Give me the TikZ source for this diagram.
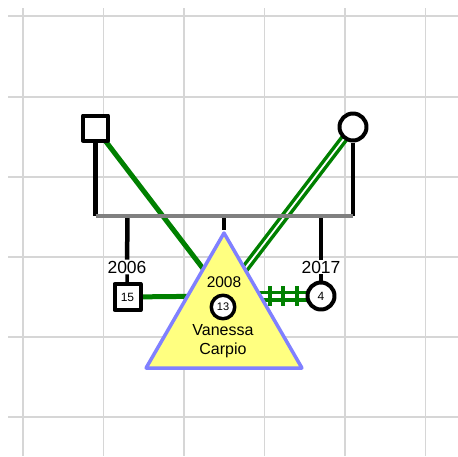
\documentclass[tikz,border=0pt]{standalone}
\usepackage{fontspec}
\setmainfont{Liberation Sans}
\usetikzlibrary{positioning,shapes}
\pgfdeclarelayer{background}
\pgfsetlayers{background,main}

\begin{document}
\begin{tikzpicture}[x=1pt,y=-1pt,line join=round]
            \definecolor{rel}{RGB}{0,128,0}
            \definecolor{triyel}{RGB}{255,255,128}
            \definecolor{triblue}{RGB}{128,128,255}
            \definecolor{gridgray}{RGB}{214,214,214}
            \tikzstyle{gridline}=[draw=gridgray, line width=1.8pt]
            \tikzstyle{male}=[draw, rectangle, fill=white, line width=4pt,
            inner sep=0pt, minimum size=25pt]
            \tikzstyle{female}=[draw, circle, fill=white, line width=4pt,
            inner sep=0pt, minimum size=27pt]
            \tikzstyle{kin}=[line width=4.5pt]
            \tikzstyle{marriage}=[draw=gray, line width=4.5pt]
            \tikzstyle{bond}=[draw=rel, line width=5pt]
            \tikzstyle{closebond}=[draw=rel, line width=3.5pt, double=white,
            double distance=1.8pt]
            \tikzstyle{hatchbond}=[draw=rel, line width=3.5pt, double=white,
            double distance=4pt]
            \tikzstyle{year}=[inner sep=1pt, font=\fontsize{17.5}{19}\selectfont]
            \useasboundingbox (0,0) rectangle (458,456);
            %      F ------------------- M
            %         S       VC      D
            \node[male] (father) at (95.5,128) {};
            \node[female] (mother) at (353,127) {};
            \node[regular polygon, regular polygon sides=3, draw=triblue,
            fill=triyel, line width=3.5pt, inner sep=0pt,
            minimum size=180pt] (vc) at (224,323) {};
            \coordinate (vcc) at (224,296);
            \node[font=\fontsize{15.5}{17}\selectfont] (born) at (224,282) {2008};
            \node[draw, circle, fill=white, line width=3.5pt, inner sep=0pt,
            minimum size=23.5pt, font=\fontsize{11}{12}\selectfont] (idx) at (223,307) {13};
            \node[align=center, font=\fontsize{16}{19}\selectfont] (vname) at (223,341)
            {Vanessa\\Carpio};
            \node[male, minimum size=26pt, font=\fontsize{12}{13}\selectfont] (son) at (127.5,297) {15};
            \node[female, font=\fontsize{12}{13}\selectfont] (daughter) at (321,296) {4};
            \node[year] (y2006) at (127,267) {2006};
            \node[year] (y2017) at (321,267) {2017};
            \coordinate (fl) at (95.5,216);
            \coordinate (fr) at (353,216);

            \begin{pgfonlayer}{background}
            \foreach \x in {23,103.5,184,264.5,345,425.5}
                \draw[gridline] (\x,8) -- (\x,456);
            \foreach \y in {16,97,177,257,337,417}
                \draw[gridline] (8,\y) -- (458,\y);
            \draw[bond] (father.center) -- (vcc);
            \draw[bond] (son.center) -- (vcc);
            \draw[closebond] (mother.center) -- (vcc);
            \draw[hatchbond] (daughter.center) -- (vcc);
            \foreach \x in {270,283,297}
                \draw[draw=rel, line width=3.5pt] (\x,286) -- (\x,306);
            \end{pgfonlayer}

            \draw[kin] (father) -- (fl);
            \draw[kin] (mother) -- (fr);
            \draw[kin] (son |- fl) -- (y2006);
            \draw[kin] (daughter |- fl) -- (y2017);
            \draw[kin] (vc |- fl) -- (vc.corner 1);
            \draw[kin, line width=3.5pt] (y2006) -- (son);
            \draw[kin, line width=3.5pt] (y2017) -- (daughter);
            \draw[marriage] (fl) -- (fr);
\end{tikzpicture}
\end{document}
